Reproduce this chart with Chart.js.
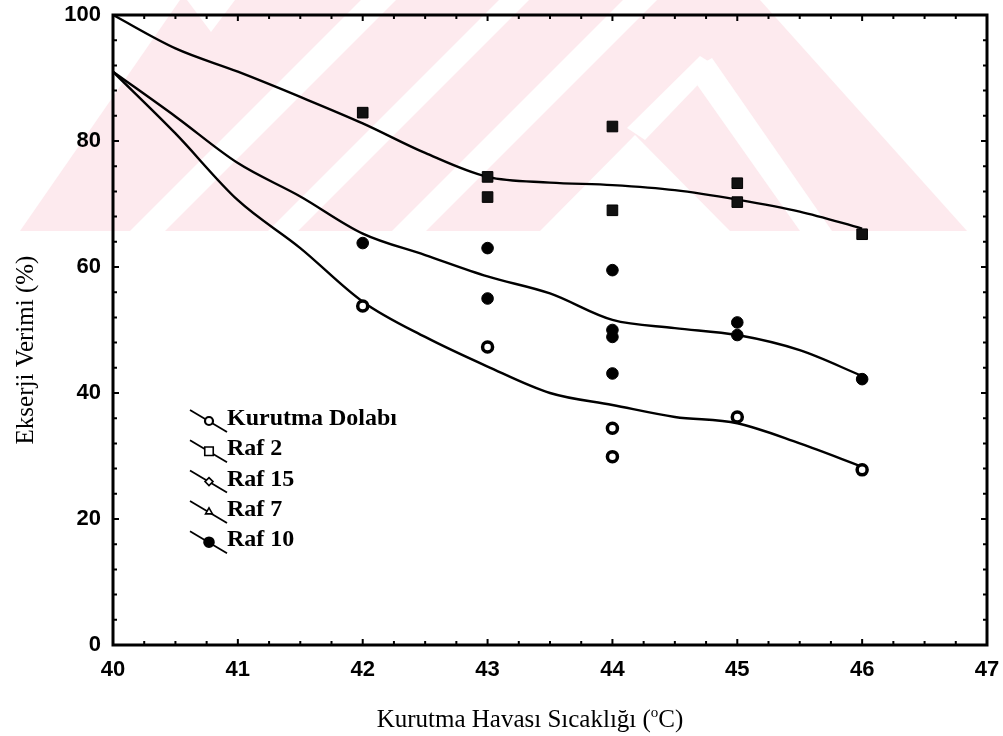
<!DOCTYPE html>
<html><head><meta charset="utf-8">
<script src="https://cdn.jsdelivr.net/npm/chart.js@4.4.1/dist/chart.umd.min.js"></script>
<style>html,body{margin:0;padding:0;background:#fff}#wrap{width:1003px;height:736px;position:relative}</style>
</head><body><div id="wrap"><canvas id="c" width="1003" height="736"></canvas></div>
<script>
// ---------- texts ----------
const xTitleMain = 'Kurutma Havası Sıcaklığı (';
const xTitleSup = 'o';
const xTitleEnd = 'C)';
const yTitle = 'Ekserji Verimi (%)';
const seriesNames = ['Kurutma Dolabı', 'Raf 2', 'Raf 15', 'Raf 7', 'Raf 10'];
const xTickValues = [40, 41, 42, 43, 44, 45, 46, 47];
const yTickValues = [0, 20, 40, 60, 80, 100];

// ---------- measured points ----------
const dolapX = [42, 43, 44, 44, 45, 46];
const dolapY = [53.8, 47.3, 34.4, 29.9, 36.2, 27.8];
const raf2X = [42, 43, 43, 44, 44, 45, 45, 46];
const raf2Y = [84.5, 74.3, 71.1, 82.3, 69.0, 73.3, 70.3, 65.2];
const raf15X = [];
const raf15Y = [];
const raf7X = [];
const raf7Y = [];
const raf10X = [42, 43, 43, 44, 44, 44, 44, 45, 45, 46];
const raf10Y = [63.8, 63.0, 55.0, 59.5, 50.0, 48.9, 43.1, 51.2, 49.2, 42.2];

// ---------- fitted curves ----------
const fitX = [40, 40.5, 41, 41.5, 42, 42.5, 43, 43.5, 44, 44.5, 45, 45.5, 46];
const fitTop = [100, 94.7, 91.0, 87.0, 82.8, 78.1, 74.3, 73.4, 73.0, 72.2, 70.7, 68.8, 66.1];
const fitMid = [91, 83.9, 76.5, 71.2, 65.3, 61.9, 58.5, 55.8, 51.6, 50.3, 49.2, 46.8, 42.7];
const fitLow = [91, 81.2, 70.6, 63.0, 54.5, 48.9, 44.2, 40.0, 38.1, 36.2, 35.2, 32.0, 28.3];

const pts = (xs, ys) => xs.map((x, i) => ({ x: x, y: ys[i] }));

const markerStyles = {
  'Kurutma Dolabı': { pointStyle: 'circle', radius: 5, bg: '#fff', bw: 3.5 },
  'Raf 2': { pointStyle: 'rect', radius: 7.5, bg: '#111', bw: 1 },
  'Raf 15': { pointStyle: 'rectRot', radius: 4, bg: '#fff', bw: 1.5 },
  'Raf 7': { pointStyle: 'triangle', radius: 5, bg: '#fff', bw: 1.5 },
  'Raf 10': { pointStyle: 'circle', radius: 5.8, bg: '#000', bw: 1 }
};
const seriesXs = [dolapX, raf2X, raf15X, raf7X, raf10X];
const seriesYs = [dolapY, raf2Y, raf15Y, raf7Y, raf10Y];

const pointSets = seriesNames.map((name, i) => {
  const s = markerStyles[name];
  return {
    label: name, isSeries: true, data: pts(seriesXs[i], seriesYs[i]), showLine: false,
    pointStyle: s.pointStyle, pointRadius: s.radius, pointBackgroundColor: s.bg,
    pointBorderColor: '#000', pointBorderWidth: s.bw, pointHoverRadius: s.radius, order: 1
  };
});
const curve = (label, ys) => ({
  label: label, isSeries: false, data: pts(fitX, ys), showLine: true, borderColor: '#000',
  borderWidth: 2.4, pointRadius: 0, pointHoverRadius: 0, fill: false,
  cubicInterpolationMode: 'monotone', order: 2
});

// faint background watermark of the scanned page (decoration only)
const watermark = {
  id: 'watermark',
  beforeDraw(chart) {
    const ctx = chart.ctx;
    ctx.save();
    ctx.fillStyle = '#fff'; ctx.fillRect(0, 0, 1003, 736);
    ctx.beginPath(); ctx.rect(0, 0, 1003, 231); ctx.clip();
    const poly = (p, c) => { ctx.fillStyle = c; ctx.beginPath(); ctx.moveTo(p[0], p[1]);
      for (let i = 2; i < p.length; i += 2) ctx.lineTo(p[i], p[i + 1]); ctx.closePath(); ctx.fill(); };
    const pink = '#fdeaee', white = '#ffffff';
    poly([20, 231, 180, 0, 760, 0, 967, 231], pink);
    poly([187, 0, 235, 0, 211, 32], white);
    poly([130, 231, 165, 231, 396, 0, 361, 0], white);
    poly([268, 231, 298, 231, 529, 0, 499, 0], white);
    poly([392, 231, 426, 231, 657, 0, 623, 0], white);
    poly([635, 135, 540, 231, 730, 231], white);
    poly([700, 56, 716, 66, 645, 140, 627, 128], white);
    poly([688, 72, 712, 58, 832, 231, 800, 231], white);
    ctx.restore();
  }
};

const frameAndDecor = {
  id: 'frameAndDecor',
  afterDraw(chart) {
    const { ctx, chartArea: a, scales: { x, y } } = chart;
    ctx.save();
    ctx.strokeStyle = '#000';
    ctx.lineWidth = 3;
    ctx.strokeRect(a.left, a.top, a.right - a.left, a.bottom - a.top);
    ctx.lineWidth = 2;
    ctx.beginPath();
    for (let i = 0; i < xTickValues.length; i++) {
      const v = xTickValues[i];
      for (let k = 0; k < 4; k++) {
        if (i === xTickValues.length - 1 && k > 0) break;
        const px = x.getPixelForValue(v + k * 0.25);
        const len = k === 0 ? 6 : 4;
        ctx.moveTo(px, a.bottom); ctx.lineTo(px, a.bottom - len);
        ctx.moveTo(px, a.top); ctx.lineTo(px, a.top + len);
      }
    }
    for (let i = 0; i < yTickValues.length; i++) {
      const v = yTickValues[i];
      for (let k = 0; k < 5; k++) {
        if (i === yTickValues.length - 1 && k > 0) break;
        const py = y.getPixelForValue(v + k * 4);
        const len = k === 0 ? 6 : 4;
        ctx.moveTo(a.left, py); ctx.lineTo(a.left + len, py);
        ctx.moveTo(a.right, py); ctx.lineTo(a.right - len, py);
      }
    }
    ctx.stroke();

    // axis titles
    ctx.fillStyle = '#000';
    ctx.textBaseline = 'alphabetic';
    const big = '25px "Liberation Serif", "Times New Roman", serif';
    const small = '15px "Liberation Serif", "Times New Roman", serif';
    ctx.font = big; const mainW = ctx.measureText(xTitleMain).width;
    ctx.font = small; const supW = ctx.measureText(xTitleSup).width;
    ctx.font = big; const endW = ctx.measureText(xTitleEnd).width;
    const sx = 530 - (mainW + supW + endW) / 2, by = 727;
    ctx.textAlign = 'left';
    ctx.fillText(xTitleMain, sx, by);
    ctx.font = small; ctx.fillText(xTitleSup, sx + mainW, by - 10);
    ctx.font = big; ctx.fillText(xTitleEnd, sx + mainW + supW, by);

    ctx.save();
    ctx.translate(33, 350);
    ctx.rotate(-Math.PI / 2);
    ctx.textAlign = 'center';
    ctx.fillText(yTitle, 0, 0);
    ctx.restore();

    // legend inside plot
    const series = chart.data.datasets.filter(d => d.isSeries);
    const lx = 190, base0 = 425, step = 30.3;
    series.forEach((d, i) => {
      const b = base0 + i * step;
      ctx.strokeStyle = '#000';
      ctx.lineWidth = 1.8;
      ctx.beginPath();
      ctx.moveTo(lx, b - 15); ctx.lineTo(lx + 37, b + 7);
      ctx.stroke();
      const s = markerStyles[d.label];
      const mr = d.label === 'Raf 2' ? 6 : (d.label === 'Raf 10' ? 5 : 4);
      ctx.fillStyle = d.label === 'Raf 10' ? '#000' : '#fff';
      const bw = d.label === 'Kurutma Dolabı' ? 2.2 : 1.6;
      ctx.lineWidth = bw;
      Chart.helpers.drawPoint(ctx, { pointStyle: s.pointStyle, rotation: 0, radius: mr, borderWidth: bw }, lx + 19, b - 4);
      ctx.fillStyle = '#000';
      ctx.font = 'bold 24px "Liberation Serif", "Times New Roman", serif';
      ctx.textAlign = 'left';
      ctx.fillText(d.label, lx + 37, b);
    });
    ctx.restore();
  }
};

new Chart(document.getElementById('c'), {
  type: 'scatter',
  data: {
    datasets: [
      curve('fit-top', fitTop), curve('fit-mid', fitMid), curve('fit-low', fitLow),
      ...pointSets
    ]
  },
  options: {
    responsive: false, animation: false, devicePixelRatio: 1,
    layout: { padding: { top: 15, right: 16, left: 0, bottom: 0 } },
    plugins: { legend: { display: false }, tooltip: { enabled: false } },
    scales: {
      x: {
        type: 'linear', min: 40, max: 47,
        afterFit(s) { s.height = 91; s.paddingLeft = 0; s.paddingRight = 0; },
        grid: { display: false, drawTicks: false },
        border: { display: false },
        ticks: {
          stepSize: 1, padding: 12, color: '#000', autoSkip: false, maxRotation: 0,
          font: { family: '"Liberation Sans", Arial, sans-serif', size: 22, weight: 'bold' },
          callback: v => xTickValues.includes(v) ? String(v) : ''
        }
      },
      y: {
        type: 'linear', min: 0, max: 100,
        afterFit(s) { s.width = 113; s.paddingTop = 0; s.paddingBottom = 0; },
        grid: { display: false, drawTicks: false },
        border: { display: false },
        ticks: {
          stepSize: 20, padding: 12, color: '#000',
          font: { family: '"Liberation Sans", Arial, sans-serif', size: 22, weight: 'bold' },
          callback: v => yTickValues.includes(v) ? String(v) : ''
        }
      }
    }
  },
  plugins: [watermark, frameAndDecor]
});
</script>
</body></html>
